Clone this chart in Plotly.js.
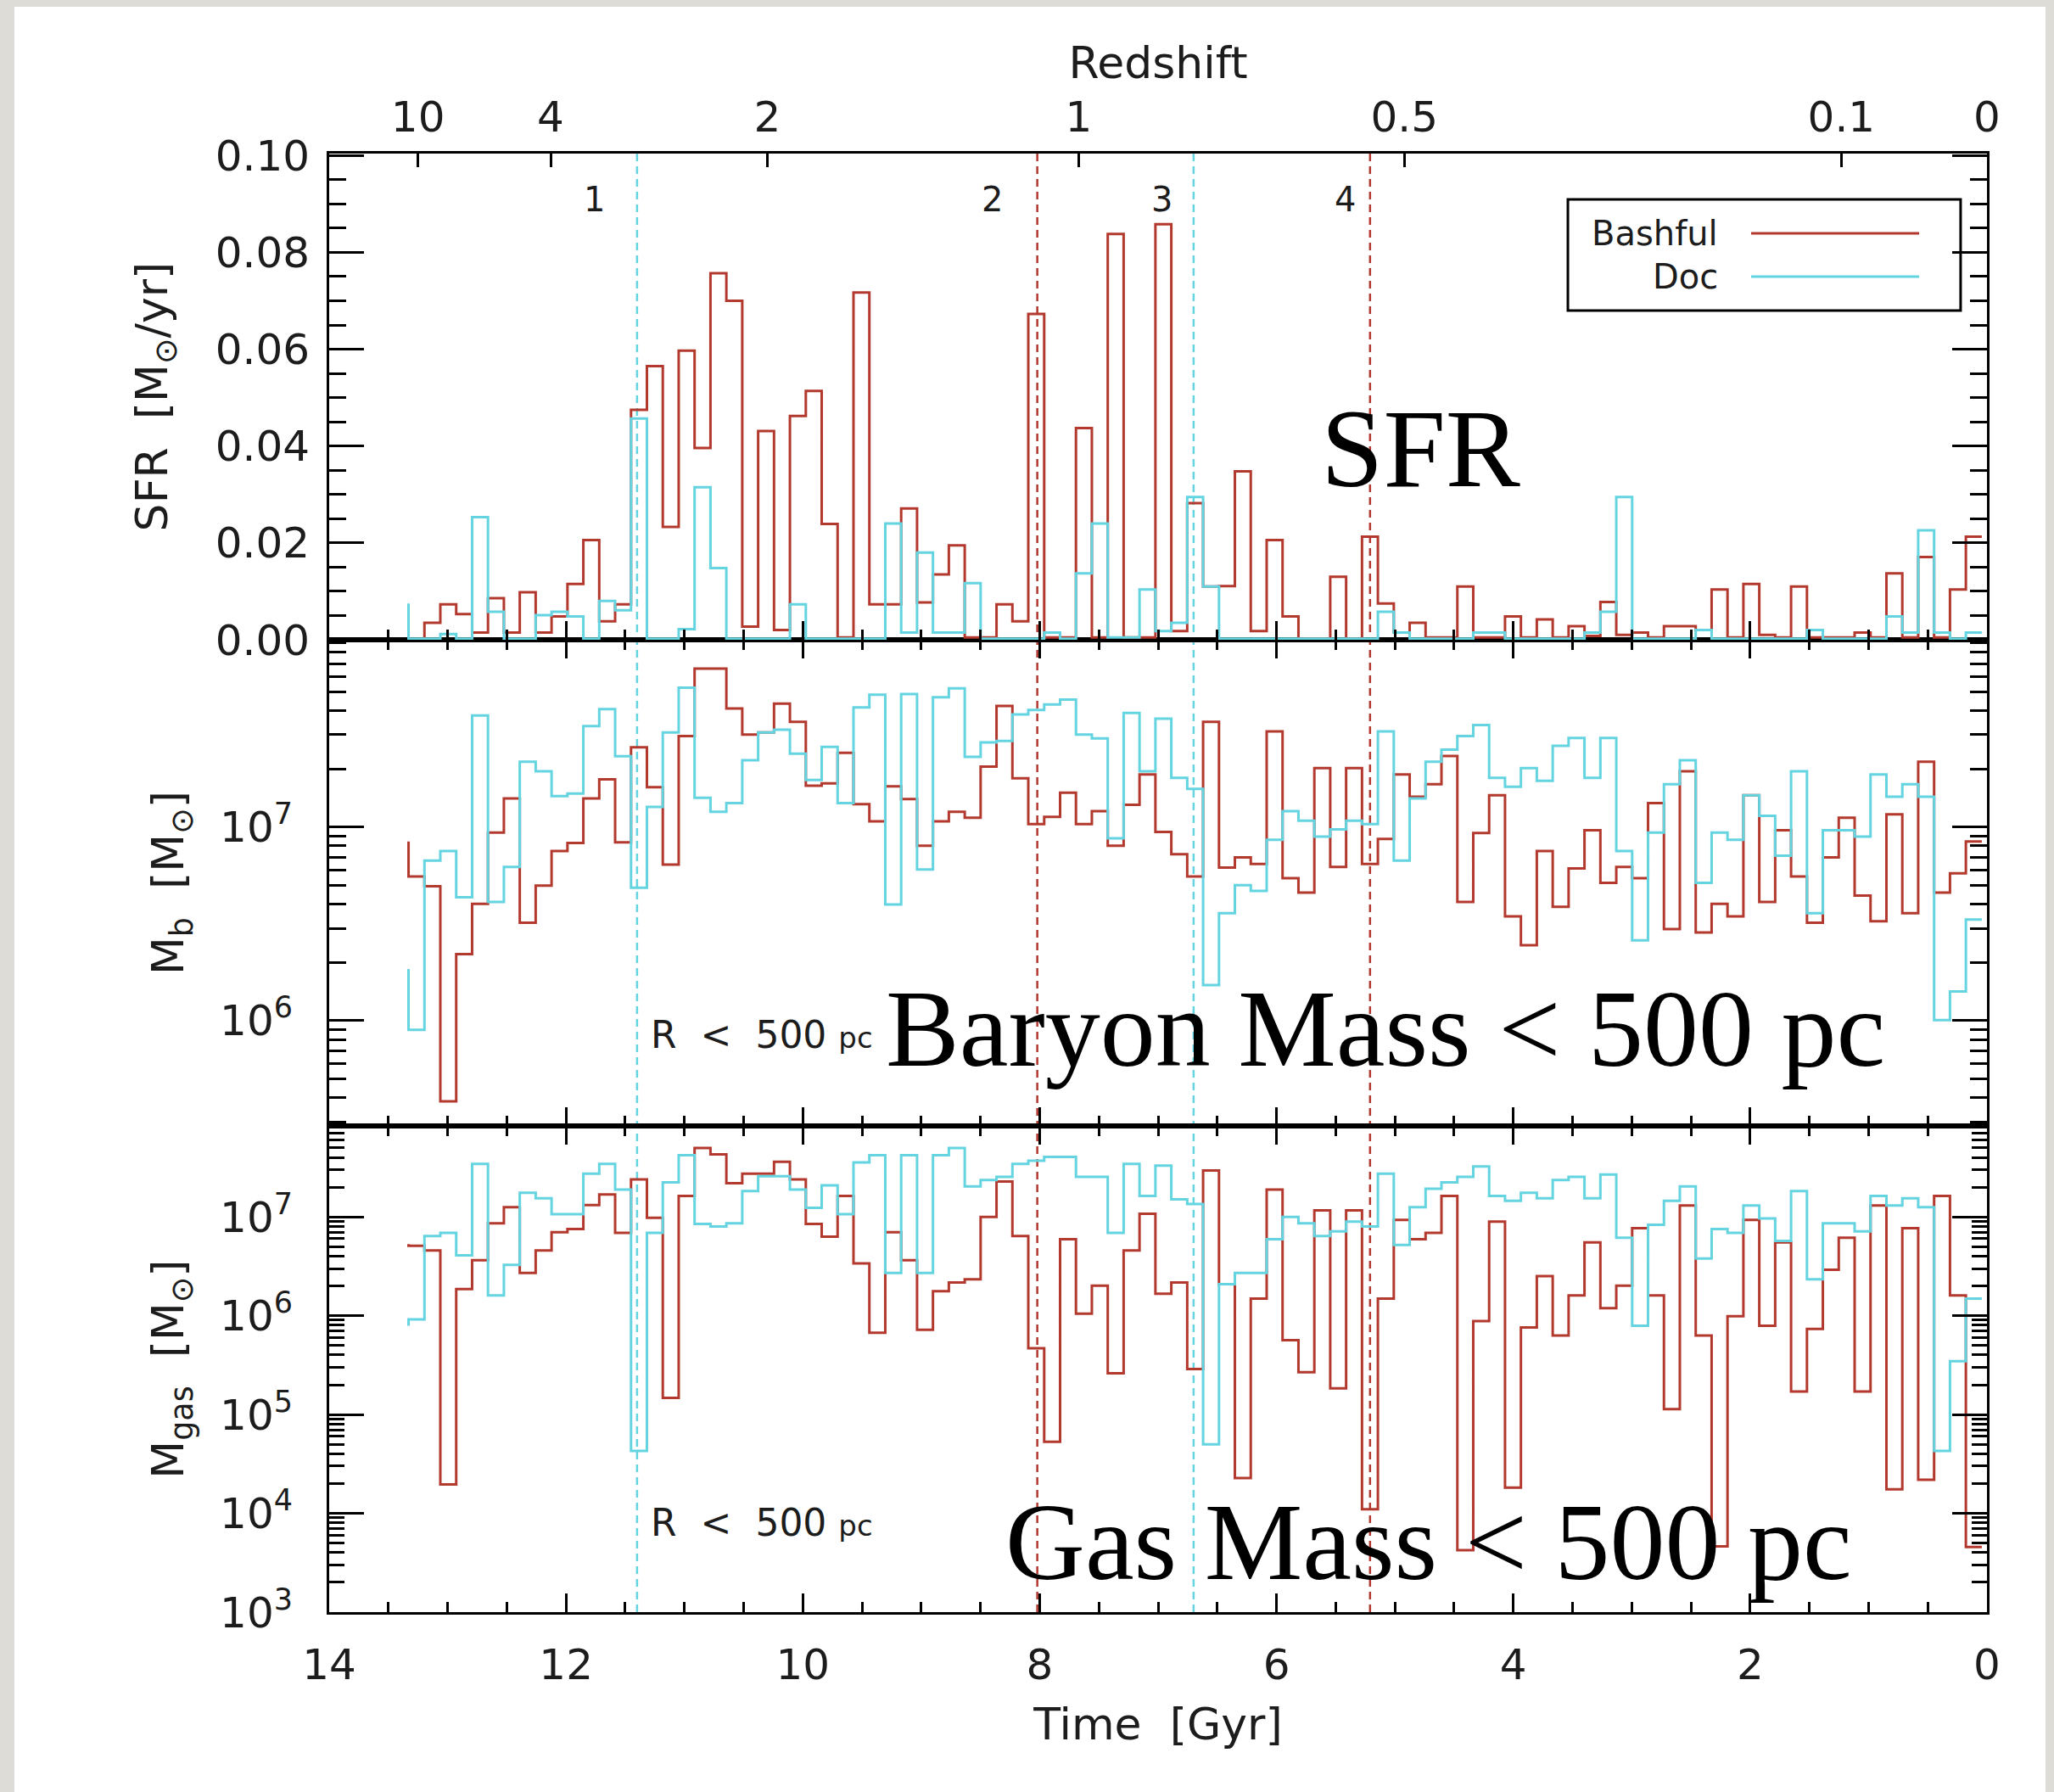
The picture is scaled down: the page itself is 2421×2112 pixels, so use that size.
<!DOCTYPE html>
<html>
<head>
<meta charset="utf-8">
<script src="https://cdn.plot.ly/plotly-3.0.1.min.js"></script>
<style>
  html, body { margin: 0; padding: 0; background: #dedcd7; width: 2421px; height: 2112px; overflow: hidden; }
  #chart { position: absolute; left: 17px; top: 8px; width: 2394px; height: 2104px; background: #fff; }
</style>
</head>
<body>
<div id="chart"></div>
<script>
// ---------------------------------------------------------------------------
// Snapshot grid: lookback time of each output, oldest first (Gyr).
// ---------------------------------------------------------------------------
const SNAP_LAST_GYR = 0.044;
const SNAP_STEP_GYR = 0.1342;
const N_SNAP = 100;
const lookbackGyr = Array.from({ length: N_SNAP },
  (_, i) => +(SNAP_LAST_GYR + SNAP_STEP_GYR * (N_SNAP - 1 - i)).toFixed(4));

const HALOS = ['Bashful', 'Doc'];
const HALO_COLORS = { Bashful: '#b3392e', Doc: '#63d4e0' };

// Star formation rate [Msun/yr], oldest -> newest
const sfrBashful = [
  0.0000, 0.0000, 0.0035, 0.0073, 0.0053, 0.0015, 0.0086, 0.0015, 0.0098, 0.0015,
  0.0048, 0.0115, 0.0206, 0.0038, 0.0073, 0.0475, 0.0565, 0.0233, 0.0597, 0.0396,
  0.0757, 0.0700, 0.0027, 0.0431, 0.0020, 0.0462, 0.0514, 0.0239, 0.0005, 0.0717,
  0.0073, 0.0073, 0.0271, 0.0077, 0.0135, 0.0195, 0.0005, 0.0005, 0.0073, 0.0038,
  0.0673, 0.0005, 0.0005, 0.0437, 0.0005, 0.0838, 0.0005, 0.0005, 0.0858, 0.0018,
  0.0282, 0.0110, 0.0111, 0.0348, 0.0018, 0.0206, 0.0048, 0.0002, 0.0002, 0.0130,
  0.0002, 0.0213, 0.0075, 0.0015, 0.0035, 0.0005, 0.0005, 0.0110, 0.0005, 0.0005,
  0.0048, 0.0005, 0.0042, 0.0005, 0.0028, 0.0008, 0.0078, 0.0010, 0.0015, 0.0005,
  0.0028, 0.0028, 0.0020, 0.0104, 0.0005, 0.0115, 0.0010, 0.0005, 0.0110, 0.0005,
  0.0005, 0.0005, 0.0015, 0.0005, 0.0137, 0.0005, 0.0171, 0.0005, 0.0104, 0.0213
];
const sfrDoc = [
  0.0075, 0.0002, 0.0002, 0.0012, 0.0002, 0.0253, 0.0058, 0.0002, 0.0002, 0.0051,
  0.0058, 0.0048, 0.0002, 0.0080, 0.0061, 0.0457, 0.0002, 0.0002, 0.0022, 0.0315,
  0.0148, 0.0002, 0.0002, 0.0002, 0.0002, 0.0073, 0.0002, 0.0002, 0.0002, 0.0002,
  0.0002, 0.0240, 0.0015, 0.0180, 0.0015, 0.0015, 0.0117, 0.0002, 0.0002, 0.0002,
  0.0002, 0.0015, 0.0002, 0.0137, 0.0240, 0.0005, 0.0005, 0.0104, 0.0018, 0.0035,
  0.0295, 0.0110, 0.0002, 0.0002, 0.0002, 0.0002, 0.0002, 0.0002, 0.0002, 0.0002,
  0.0002, 0.0002, 0.0058, 0.0015, 0.0002, 0.0002, 0.0002, 0.0002, 0.0015, 0.0015,
  0.0002, 0.0002, 0.0002, 0.0002, 0.0002, 0.0015, 0.0058, 0.0295, 0.0002, 0.0002,
  0.0002, 0.0002, 0.0020, 0.0002, 0.0002, 0.0002, 0.0002, 0.0002, 0.0002, 0.0020,
  0.0002, 0.0002, 0.0002, 0.0002, 0.0048, 0.0015, 0.0226, 0.0015, 0.0002, 0.0015
];

// Baryon mass inside 500 pc, log10(Msun), oldest -> newest
const logMbBashful = [
  6.926, 6.745, 6.695, 5.583, 6.344, 6.604, 6.972, 7.148, 6.506, 6.698,
  6.876, 6.918, 7.148, 7.247, 6.921, 7.412, 7.206, 6.806, 7.470, 7.819,
  7.819, 7.613, 7.478, 7.489, 7.638, 7.544, 7.214, 7.226, 7.384, 7.119,
  7.030, 7.211, 7.145, 6.904, 7.030, 7.079, 7.049, 7.313, 7.626, 7.252,
  7.016, 7.053, 7.178, 7.016, 7.082, 6.904, 7.115, 7.272, 6.975, 6.860,
  6.745, 7.544, 6.791, 6.843, 6.810, 7.494, 6.736, 6.662, 7.305, 6.794,
  7.305, 6.810, 6.939, 7.272, 7.157, 7.222, 7.367, 6.613, 6.970, 7.165,
  6.539, 6.390, 6.876, 6.588, 6.786, 6.984, 6.712, 6.794, 6.736, 7.124,
  6.473, 7.288, 6.456, 6.604, 6.539, 7.165, 6.613, 6.984, 6.745, 6.506,
  6.843, 7.049, 6.646, 6.514, 7.066, 6.555, 7.338, 6.662, 6.761, 6.926
];
const logMbDoc = [
  6.267, 5.953, 6.827, 6.876, 6.637, 7.577, 6.613, 6.794, 7.338, 7.288,
  7.160, 7.173, 7.522, 7.610, 7.366, 6.687, 7.104, 7.489, 7.720, 7.152,
  7.079, 7.124, 7.346, 7.489, 7.503, 7.379, 7.244, 7.415, 7.124, 7.618,
  7.684, 6.600, 7.687, 6.781, 7.671, 7.717, 7.363, 7.437, 7.445, 7.582,
  7.605, 7.634, 7.659, 7.478, 7.458, 6.942, 7.590, 7.288, 7.560, 7.255,
  7.198, 6.184, 6.555, 6.700, 6.670, 6.934, 7.082, 7.033, 6.951, 6.988,
  7.033, 7.016, 7.494, 6.827, 7.148, 7.338, 7.400, 7.470, 7.527, 7.255,
  7.209, 7.305, 7.239, 7.420, 7.461, 7.255, 7.461, 6.876, 6.415, 6.972,
  7.222, 7.346, 6.712, 6.972, 6.934, 7.165, 7.058, 6.852, 7.288, 6.555,
  6.984, 6.984, 6.951, 7.272, 7.157, 7.222, 7.157, 6.003, 6.151, 6.522
];

// Gas mass inside 500 pc, log10(Msun), oldest -> newest
const logMgasBashful = [
  6.724, 6.708, 6.659, 4.292, 6.270, 6.562, 6.935, 7.097, 6.432, 6.659,
  6.844, 6.877, 7.120, 7.227, 6.838, 7.380, 6.990, 5.167, 7.211, 7.697,
  7.632, 7.341, 7.438, 7.438, 7.558, 7.380, 6.929, 6.799, 7.211, 6.530,
  5.826, 6.844, 6.562, 5.858, 6.247, 6.335, 6.367, 7.000, 7.357, 6.805,
  5.670, 4.723, 6.773, 6.020, 6.303, 5.417, 6.659, 7.032, 6.222, 6.335,
  5.459, 7.470, 6.319, 4.357, 6.173, 7.276, 5.751, 5.427, 7.065, 5.265,
  7.065, 4.042, 6.173, 6.968, 6.773, 6.838, 7.211, 3.627, 5.946, 6.951,
  4.259, 5.881, 6.400, 5.800, 6.205, 6.741, 6.076, 6.303, 6.886, 6.205,
  5.054, 7.114, 5.800, 3.666, 5.994, 6.968, 5.897, 6.741, 5.232, 5.865,
  6.465, 6.789, 5.232, 7.114, 4.243, 6.886, 4.340, 7.211, 6.205, 3.659
];
const logMgasDoc = [
  5.897, 5.962, 6.805, 6.838, 6.611, 7.535, 6.205, 6.513, 7.243, 7.188,
  7.026, 7.026, 7.438, 7.535, 7.276, 4.632, 6.838, 7.350, 7.623, 6.929,
  6.903, 6.935, 7.260, 7.412, 7.412, 7.276, 7.091, 7.318, 7.026, 7.551,
  7.623, 6.432, 7.623, 6.432, 7.623, 7.697, 7.308, 7.373, 7.405, 7.535,
  7.568, 7.607, 7.607, 7.405, 7.405, 6.838, 7.535, 7.211, 7.519, 7.178,
  7.130, 4.697, 6.319, 6.432, 6.432, 6.773, 7.000, 6.935, 6.805, 6.854,
  6.951, 6.903, 7.438, 6.715, 7.097, 7.285, 7.350, 7.405, 7.509, 7.211,
  7.162, 7.243, 7.188, 7.373, 7.405, 7.188, 7.428, 6.789, 5.897, 6.919,
  7.162, 7.308, 6.578, 6.877, 6.838, 7.114, 6.984, 6.757, 7.260, 6.367,
  6.935, 6.935, 6.854, 7.211, 7.114, 7.188, 7.097, 4.632, 5.540, 6.173
];

// Numbered events (lookback Gyr) and the halo each one belongs to
const EVENT_IDS = ['1', '2', '3', '4'];
const EVENT_GYR = [11.40, 8.02, 6.70, 5.21];
const EVENT_HALO = ['Doc', 'Bashful', 'Doc', 'Bashful'];

// Redshift scale along the top
const REDSHIFT_TICKS = ['10', '4', '2', '1', '0.5', '0.1', '0'];
const REDSHIFT_LOOKBACK_GYR = [13.25, 12.13, 10.30, 7.67, 4.92, 1.23, 0.0];

// ---------------------------------------------------------------------------
const BLACK = '#000';
const TEXT = '#1c1c1c';
const SANS = 'DejaVu Sans';
const SERIF = 'Liberation Serif';

function stepTrace(y, halo, xa, ya) {
  return {
    type: 'scatter', mode: 'lines', name: halo,
    x: lookbackGyr, y: y, xaxis: xa, yaxis: ya,
    line: { shape: 'vh', color: HALO_COLORS[halo], width: 3 },
    hoverinfo: 'skip', showlegend: false
  };
}
const pow10 = a => a.map(v => Math.pow(10, v));

const traces = [
  stepTrace(sfrBashful, 'Bashful', 'x3', 'y3'),
  stepTrace(sfrDoc, 'Doc', 'x3', 'y3'),
  stepTrace(pow10(logMbBashful), 'Bashful', 'x2', 'y2'),
  stepTrace(pow10(logMbDoc), 'Doc', 'x2', 'y2'),
  stepTrace(pow10(logMgasBashful), 'Bashful', 'x', 'y'),
  stepTrace(pow10(logMgasDoc), 'Doc', 'x', 'y'),
  // empty carrier so the redshift scale gets its own subplot on top of the SFR panel
  { type: 'scatter', mode: 'lines', x: [], y: [], xaxis: 'x4', yaxis: 'y3', hoverinfo: 'skip', showlegend: false }
];

function timeAxis(extra) {
  return Object.assign({
    range: [14, 0], autorange: false, tickmode: 'linear', tick0: 0, dtick: 2,
    showline: true, linecolor: BLACK, linewidth: 3,
    ticks: 'inside', ticklen: 22, tickwidth: 3, tickcolor: BLACK,
    minor: { ticks: 'inside', ticklen: 12, tickwidth: 3, tickcolor: BLACK, tickmode: 'linear', tick0: 0, dtick: 0.5 },
    showgrid: false, zeroline: false, showticklabels: false,
    tickfont: { family: SANS, size: 50, color: TEXT }
  }, extra);
}

function decadeMinor(lo, hi) {
  const v = [];
  for (let d = lo; d <= hi; d++) for (let m = 2; m <= 9; m++) v.push(m * Math.pow(10, d));
  return v;
}
function decadeLabels(lo, hi) {
  const vals = [], text = [];
  for (let d = lo; d <= hi; d++) { vals.push(Math.pow(10, d)); text.push('10<sup>' + d + '</sup>'); }
  return { vals, text };
}

function valueAxis(extra) {
  return Object.assign({
    showline: true, linecolor: BLACK, linewidth: 3, mirror: 'ticks',
    ticks: 'inside', ticklen: 41, tickwidth: 3, tickcolor: BLACK,
    showgrid: false, zeroline: false,
    tickfont: { family: SANS, size: 50, color: TEXT }
  }, extra);
}

const gasTicks = decadeLabels(3, 7);
const mbTicks = decadeLabels(6, 7);

const layout = {
  width: 2394, height: 2104,
  margin: { l: 371, r: 69, t: 173, b: 212 },
  paper_bgcolor: '#ffffff', plot_bgcolor: '#ffffff',
  showlegend: false,
  font: { family: SANS, size: 50, color: TEXT },

  xaxis: timeAxis({
    anchor: 'y', mirror: 'ticks', showticklabels: true, ticklabelstandoff: 16,
    title: { text: 'Time  [Gyr]', standoff: 24, font: { family: SANS, size: 52, color: TEXT } }
  }),
  xaxis2: timeAxis({ anchor: 'y2', mirror: 'ticks' }),
  xaxis3: timeAxis({ anchor: 'y3' }),
  xaxis4: {
    overlaying: 'x3', anchor: 'y3', side: 'top', range: [14, 0], autorange: false,
    tickmode: 'array', tickvals: REDSHIFT_LOOKBACK_GYR, ticktext: REDSHIFT_TICKS,
    showline: true, linecolor: BLACK, linewidth: 3,
    ticks: 'inside', ticklen: 16, tickwidth: 3, tickcolor: BLACK,
    showgrid: false, zeroline: false, ticklabelstandoff: 3,
    tickfont: { family: SANS, size: 50, color: TEXT },
    title: { text: 'Redshift', standoff: 0, font: { family: SANS, size: 52, color: TEXT } }
  },

  yaxis3: valueAxis({
    domain: [2 / 3, 1], anchor: 'x3', range: [0, 0.1004],
    tickmode: 'linear', tick0: 0, dtick: 0.02, tickformat: '.2f',
    minor: { ticks: 'inside', ticklen: 20, tickwidth: 3, tickcolor: BLACK, tickmode: 'linear', tick0: 0, dtick: 0.005 },
    ticklabelstandoff: 10,
    title: { text: 'SFR  [M<sub>⊙</sub>/yr]', standoff: 40, font: { family: SANS, size: 52, color: TEXT } }
  }),
  yaxis2: valueAxis({
    domain: [1 / 3, 2 / 3], anchor: 'x2', type: 'log', range: [5.456, 7.968],
    tickmode: 'array', tickvals: mbTicks.vals, ticktext: mbTicks.text,
    minor: { ticks: 'inside', ticklen: 20, tickwidth: 3, tickcolor: BLACK, tickmode: 'array', tickvals: decadeMinor(5, 7) },
    ticklabelstandoff: 30,
    title: { text: 'M<sub>b</sub>  [M<sub>⊙</sub>]', standoff: 26, font: { family: SANS, size: 52, color: TEXT } }
  }),
  yaxis: valueAxis({
    domain: [0, 1 / 3], anchor: 'x', type: 'log', range: [3, 7.92],
    tickmode: 'array', tickvals: gasTicks.vals, ticktext: gasTicks.text,
    minor: { ticks: 'inside', ticklen: 18, tickwidth: 3, tickcolor: BLACK, tickmode: 'array', tickvals: decadeMinor(3, 7) },
    ticklabelstandoff: 30,
    title: { text: 'M<sub>gas</sub>  [M<sub>⊙</sub>]', standoff: 26, font: { family: SANS, size: 52, color: TEXT } }
  }),

  shapes: [],
  annotations: []
};

// Event markers: dashed verticals through all three panels, numbered at the top
const EVENT_LABEL_SHIFT_GYR = [0.36, 0.38, 0.27, 0.21];
EVENT_IDS.forEach((id, i) => {
  layout.shapes.push({
    type: 'line', xref: 'x', yref: 'paper', x0: EVENT_GYR[i], x1: EVENT_GYR[i], y0: 0, y1: 1,
    line: { color: HALO_COLORS[EVENT_HALO[i]], width: 2.5, dash: '9px,6px' }, layer: 'below'
  });
  layout.annotations.push({
    xref: 'x3', yref: 'y3 domain', x: EVENT_GYR[i] + EVENT_LABEL_SHIFT_GYR[i], y: 0.906,
    text: id, showarrow: false, xanchor: 'center', yanchor: 'middle',
    font: { family: SANS, size: 40, color: TEXT }
  });
});

// Legend box (name, then line sample)
layout.shapes.push({
  type: 'rect', xref: 'x3 domain', yref: 'y3 domain', x0: 0.7472, x1: 0.9841, y0: 0.6771, y1: 0.9058,
  line: { color: BLACK, width: 3 }, fillcolor: 'rgba(0,0,0,0)'
});
const LEGEND_ROWS_Y = [0.836, 0.747];
HALOS.forEach((h, i) => {
  layout.shapes.push({
    type: 'line', xref: 'x3 domain', yref: 'y3 domain', x0: 0.8577, x1: 0.9591,
    y0: LEGEND_ROWS_Y[i], y1: LEGEND_ROWS_Y[i], line: { color: HALO_COLORS[h], width: 3 }
  });
  layout.annotations.push({
    xref: 'x3 domain', yref: 'y3 domain', x: 0.8388, y: LEGEND_ROWS_Y[i],
    text: h, showarrow: false, xanchor: 'right', yanchor: 'middle',
    font: { family: SANS, size: 40, color: TEXT }
  });
});

// Aperture notes
[['x2 domain', 'y2 domain', 0.188], ['x domain', 'y domain', 0.184]].forEach(([xr, yr, y]) => {
  layout.annotations.push({
    xref: xr, yref: yr, x: 0.193, y: y, xanchor: 'left', yanchor: 'middle', showarrow: false,
    text: 'R  &lt;  500 <span style="font-size:34px">pc</span>',
    font: { family: SANS, size: 44, color: TEXT }
  });
});

// Panel headings
[
  ['SFR', 'x3 domain', 'y3 domain', 0.597, 0.393, 132],
  ['Baryon Mass &lt; 500 pc', 'x2 domain', 'y2 domain', 0.3347, 0.200, 130],
  ['Gas Mass &lt; 500 pc', 'x domain', 'y domain', 0.4069, 0.145, 130]
].forEach(([t, xr, yr, x, y, s]) => {
  layout.annotations.push({
    xref: xr, yref: yr, x: x, y: y, xanchor: 'left', yanchor: 'middle', showarrow: false,
    text: t, font: { family: SERIF, size: s, color: '#000' }
  });
});

Plotly.newPlot('chart', traces, layout, { staticPlot: true, displayModeBar: false });
</script>
</body>
</html>
